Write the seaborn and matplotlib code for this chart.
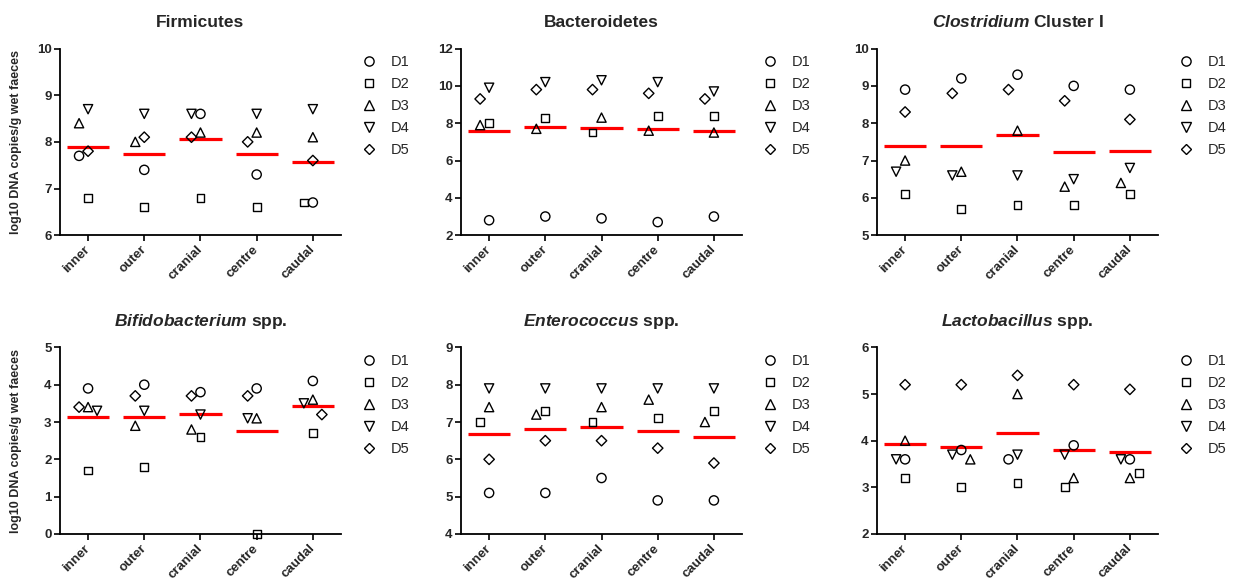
import numpy as np
import pandas as pd
import matplotlib
matplotlib.use("Agg")
import matplotlib.pyplot as plt
from matplotlib.lines import Line2D
from matplotlib.markers import MarkerStyle
from matplotlib.transforms import Affine2D
import seaborn as sns

sites = ["inner", "outer", "cranial", "centre", "caudal"]
donors = ["D1", "D2", "D3", "D4", "D5"]

# rows = donors D1..D5, columns = sites
firmicutes = [[7.7, 7.4, 8.6, 7.3, 6.7],
              [6.8, 6.6, 6.8, 6.6, 6.7],
              [8.4, 8.0, 8.2, 8.2, 8.1],
              [8.7, 8.6, 8.6, 8.6, 8.7],
              [7.8, 8.1, 8.1, 8.0, 7.6]]
bacteroidetes = [[2.8, 3.0, 2.9, 2.7, 3.0],
                 [8.0, 8.3, 7.5, 8.4, 8.4],
                 [7.9, 7.7, 8.3, 7.6, 7.5],
                 [9.9, 10.2, 10.3, 10.2, 9.7],
                 [9.3, 9.8, 9.8, 9.6, 9.3]]
clostridium = [[8.9, 9.2, 9.3, 9.0, 8.9],
               [6.1, 5.7, 5.8, 5.8, 6.1],
               [7.0, 6.7, 7.8, 6.3, 6.4],
               [6.7, 6.6, 6.6, 6.5, 6.8],
               [8.3, 8.8, 8.9, 8.6, 8.1]]
bifidobacterium = [[3.9, 4.0, 3.8, 3.9, 4.1],
                   [1.7, 1.8, 2.6, 0.0, 2.7],
                   [3.4, 2.9, 2.8, 3.1, 3.6],
                   [3.3, 3.3, 3.2, 3.1, 3.5],
                   [3.4, 3.7, 3.7, 3.7, 3.2]]
enterococcus = [[5.1, 5.1, 5.5, 4.9, 4.9],
                [7.0, 7.3, 7.0, 7.1, 7.3],
                [7.4, 7.2, 7.4, 7.6, 7.0],
                [7.9, 7.9, 7.9, 7.9, 7.9],
                [6.0, 6.5, 6.5, 6.3, 5.9]]
lactobacillus = [[3.6, 3.8, 3.6, 3.9, 3.6],
                 [3.2, 3.0, 3.1, 3.0, 3.3],
                 [4.0, 3.6, 5.0, 3.2, 3.2],
                 [3.6, 3.7, 3.7, 3.7, 3.6],
                 [5.2, 5.2, 5.4, 5.2, 5.1]]

titles = ["Firmicutes", "Bacteroidetes", r"$\it{Clostridium}$ Cluster I",
          r"$\it{Bifidobacterium}$ spp.", r"$\it{Enterococcus}$ spp.",
          r"$\it{Lactobacillus}$ spp."]
ylims = [(6, 10), (2, 12), (5, 10), (0, 5), (4, 9), (2, 6)]
ysteps = [1, 2, 1, 1, 1, 1]
panels = [firmicutes, bacteroidetes, clostridium,
          bifidobacterium, enterococcus, lactobacillus]

sns.set_style("ticks")
plt.rcParams["font.family"] = ["Liberation Sans", "DejaVu Sans"]
plt.rcParams["mathtext.fontset"] = "custom"
plt.rcParams["mathtext.it"] = "Liberation Sans:italic:bold"
plt.rcParams["mathtext.rm"] = "Liberation Sans:bold"
plt.rcParams["mathtext.bf"] = "Liberation Sans:bold"

markers = {
    "D1": MarkerStyle("o"),
    "D2": MarkerStyle("s", transform=Affine2D().scale(0.85)),
    "D3": MarkerStyle("^"),
    "D4": MarkerStyle("v"),
    "D5": MarkerStyle("D", transform=Affine2D().scale(0.8)),
}
msize = 44


def spread(vals, ax, step=9.0, vgap=15.0):
    # GraphPad-ish scatter: shift sideways when points crowd vertically
    vals = np.asarray(vals, float)
    ys = ax.transData.transform(np.column_stack([np.zeros(len(vals)), vals]))[:, 1]
    cat_px = ax.transData.transform([[1, 0]])[0, 0] - ax.transData.transform([[0, 0]])[0, 0]
    placed = []
    offs = np.zeros(len(vals))
    for i in np.argsort(-vals, kind="stable"):
        best, best_d = 0.0, -1.0
        for c in [0, -1, 1, -2, 2]:
            dx = c * step
            clash = [abs(ys[i] - py) for px, py in placed if abs(dx - px) < step * 0.9]
            d = min(clash) if clash else np.inf
            if d >= vgap:
                best = dx
                break
            if d > best_d:
                best, best_d = dx, d
        offs[i] = best / cat_px
        placed.append((best, ys[i]))
    return offs


fig = plt.figure(figsize=(12.34, 5.85), dpi=100)
lefts = [0.0486, 0.3736, 0.7107]
bottoms = [0.598, 0.0872]
w, h = 0.2277, 0.319

for k, vals in enumerate(panels):
    ax = fig.add_axes([lefts[k % 3], bottoms[k // 3], w, h])
    ax.set_xlim(-0.5, 4.5)
    ax.set_ylim(*ylims[k])

    df = pd.DataFrame({
        "site": np.tile(sites, len(donors)),
        "donor": np.repeat(donors, len(sites)),
        "value": np.ravel(vals),
    })
    df["pos"] = df["site"].map(sites.index).astype(float)
    for s in sites:
        m = df["site"] == s
        df.loc[m, "pos"] += spread(df.loc[m, "value"].values, ax)

    means = df.groupby("site", sort=False)["value"].mean()
    idx = np.arange(len(sites))
    ax.hlines(means.loc[sites].values, idx - 0.375, idx + 0.375,
              color="#ff0000", lw=2.3, zorder=2)

    sns.scatterplot(data=df, x="pos", y="value", style="donor", markers=markers,
                    s=msize, color="black", facecolor="none", edgecolor="black",
                    linewidth=1.0, legend=False, ax=ax, zorder=3, clip_on=False)

    ax.set_xlim(-0.5, 4.5)
    ax.set_ylim(*ylims[k])
    ax.set_yticks(np.arange(ylims[k][0], ylims[k][1] + 0.1, ysteps[k]))
    ax.set_xticks(idx, sites)
    for lab in ax.get_xticklabels():
        lab.set(rotation=45, ha="right", va="center", rotation_mode="anchor",
                fontweight="bold", fontsize=9.5)
    for lab in ax.get_yticklabels():
        lab.set(fontweight="bold", fontsize=9.5)
    ax.tick_params(length=4, width=1.2, pad=2, color="black")
    ax.tick_params(axis="x", pad=5)
    sns.despine(ax=ax)
    for sp in ["left", "bottom"]:
        ax.spines[sp].set_linewidth(1.3)
        ax.spines[sp].set_color("black")
    ax.set_xlabel("")
    if k % 3 == 0:
        ax.set_ylabel("log10 DNA copies/g wet faeces", fontweight="bold", fontsize=9)
        ax.yaxis.set_label_coords(-0.135, 0.5)
    else:
        ax.set_ylabel("")
    ax.set_title(titles[k], fontsize=12.5, fontweight="bold", pad=15.5)

    handles = [Line2D([], [], linestyle="none", marker=markers[d],
                      markersize=np.sqrt(msize), markerfacecolor="none",
                      markeredgecolor="black", markeredgewidth=1.0) for d in donors]
    ax.legend(handles, donors, loc="upper left", bbox_to_anchor=(1.075, 0.965),
              frameon=False, handlelength=1.0, handletextpad=1.0,
              labelspacing=0.55, borderaxespad=0, borderpad=0, fontsize=10.5)

fig.savefig("out.png", dpi=100)
